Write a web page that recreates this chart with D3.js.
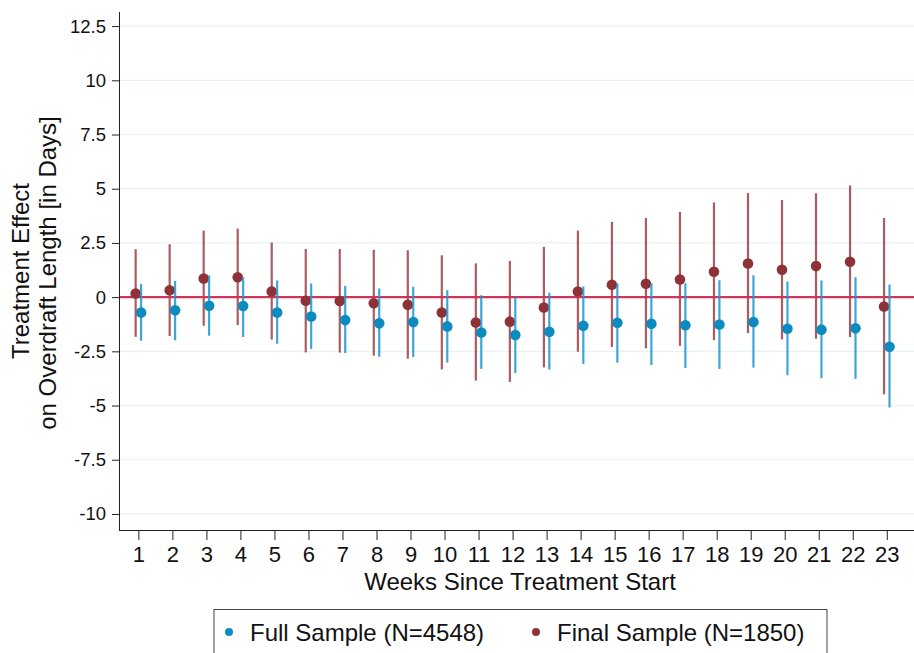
<!DOCTYPE html>
<html>
<head>
<meta charset="utf-8">
<script src="https://cdn.jsdelivr.net/npm/d3@7"></script>
<style>
  body { margin: 0; background: #fff; }
  svg { display: block; font-family: "Liberation Sans", Arial, sans-serif; }
</style>
</head>
<body>
<svg width="914" height="653"></svg>
<script>
const svg = d3.select("svg"),
  width = +svg.attr("width"),
  height = +svg.attr("height");

// Datos
const weeks = d3.range(1, 24);
const yTicks = [-10, -7.5, -5, -2.5, 0, 2.5, 5, 7.5, 10, 12.5];

const fullEst = [-0.71, -0.61, -0.40, -0.41, -0.71, -0.89, -1.06, -1.21, -1.15, -1.35, -1.63, -1.75,
  -1.60, -1.32, -1.18, -1.23, -1.30, -1.26, -1.15, -1.46, -1.50, -1.44, -2.29];
const fullHi = [0.61, 0.75, 1.00, 0.92, 0.77, 0.63, 0.52, 0.40, 0.48, 0.32, 0.09, 0.00,
  0.20, 0.49, 0.63, 0.64, 0.64, 0.78, 1.01, 0.72, 0.77, 0.92, 0.58];
const fullLo = [-2.01, -1.99, -1.78, -1.84, -2.15, -2.39, -2.58, -2.75, -2.76, -3.02, -3.31, -3.50,
  -3.34, -3.08, -3.02, -3.13, -3.27, -3.31, -3.25, -3.60, -3.74, -3.77, -5.09];

const finalEst = [0.17, 0.32, 0.86, 0.92, 0.26, -0.17, -0.18, -0.28, -0.35, -0.71, -1.17, -1.13,
  -0.48, 0.26, 0.57, 0.62, 0.81, 1.17, 1.55, 1.26, 1.43, 1.63, -0.43];
const finalHi = [2.21, 2.44, 3.07, 3.16, 2.52, 2.22, 2.22, 2.18, 2.16, 1.93, 1.56, 1.67,
  2.32, 3.07, 3.47, 3.65, 3.93, 4.37, 4.80, 4.48, 4.79, 5.15, 3.65];
const finalLo = [-1.83, -1.79, -1.32, -1.29, -1.96, -2.55, -2.56, -2.70, -2.84, -3.33, -3.85, -3.91,
  -3.24, -2.52, -2.30, -2.36, -2.25, -1.99, -1.66, -1.95, -1.92, -1.84, -4.48];

const series = [
  { name: "Final Sample (N=1850)", est: finalEst, lo: finalLo, hi: finalHi,
    dot: "#8e3237", bar: "#9a3f46", shift: -0.08 },
  { name: "Full Sample (N=4548)", est: fullEst, lo: fullLo, hi: fullHi,
    dot: "#0d8bbf", bar: "#1a98cc", shift: 0.08 }
];

const margin = { top: 12, right: 0, bottom: 123, left: 120 };

// Escalas
const x = d3.scaleLinear()
  .domain([0.46, 23.8])
  .range([margin.left, width - margin.right]);

const y = d3.scaleLinear()
  .domain([-10.74, 13.15])
  .range([height - margin.bottom, margin.top]);

// Rejilla
svg.append("g")
  .selectAll("line")
  .data(yTicks)
  .join("line")
  .attr("x1", margin.left)
  .attr("x2", width)
  .attr("y1", d => y(d))
  .attr("y2", d => y(d))
  .attr("stroke", "#eaf1f4")
  .attr("stroke-width", 1.2);

// Ejes (guion normal como signo menos, igual que el original)
const yAxis = svg.append("g")
  .attr("transform", `translate(${margin.left},0)`)
  .call(d3.axisLeft(y).tickValues(yTicks).tickSize(8).tickPadding(6)
    .tickFormat(d => String(d)));
yAxis.select(".domain").attr("d", `M-0.5,${margin.top}V${height - margin.bottom}`);
yAxis.selectAll("text").style("font-size", "18.5px").attr("fill", "#111");

const xAxis = svg.append("g")
  .attr("transform", `translate(0,${height - margin.bottom})`)
  .call(d3.axisBottom(x).tickValues(weeks).tickSize(10).tickPadding(6).tickFormat(d => String(d)));
xAxis.select(".domain").attr("d", `M${margin.left - 1},0.5H${width}`);
xAxis.selectAll("text").style("font-size", "22px").attr("fill", "#111");
svg.selectAll(".tick line").attr("stroke", "#222");
svg.selectAll(".domain").attr("stroke", "#222");

// Títulos
svg.append("text")
  .attr("transform", "rotate(-90)")
  .attr("x", -271)
  .attr("y", 29)
  .attr("text-anchor", "middle")
  .style("font-size", "24px")
  .attr("fill", "#111")
  .text("Treatment Effect");

svg.append("text")
  .attr("transform", "rotate(-90)")
  .attr("x", -273)
  .attr("y", 56)
  .attr("text-anchor", "middle")
  .style("font-size", "24px")
  .attr("fill", "#111")
  .text("on Overdraft Length [in Days]");

svg.append("text")
  .attr("x", 520)
  .attr("y", 590)
  .attr("text-anchor", "middle")
  .style("font-size", "24px")
  .attr("fill", "#111")
  .text("Weeks Since Treatment Start");

// Series: barras rojas, línea cero, puntos rojos, luego azul
function drawBars(s) {
  svg.append("g")
    .selectAll("line")
    .data(weeks)
    .join("line")
    .attr("x1", (d) => x(d + s.shift))
    .attr("x2", (d) => x(d + s.shift))
    .attr("y1", (d, i) => y(s.lo[i]))
    .attr("y2", (d, i) => y(s.hi[i]))
    .attr("stroke", s.bar)
    .attr("stroke-opacity", 0.85)
    .attr("stroke-width", 2.2);
}
function drawDots(s) {
  svg.append("g")
    .selectAll("circle")
    .data(weeks)
    .join("circle")
    .attr("cx", (d) => x(d + s.shift))
    .attr("cy", (d, i) => y(s.est[i]))
    .attr("r", 5.3)
    .attr("fill", s.dot);
}

drawBars(series[0]);
svg.append("line")
  .attr("x1", margin.left)
  .attr("x2", width)
  .attr("y1", y(0))
  .attr("y2", y(0))
  .attr("stroke", "#d0345a")
  .attr("stroke-width", 2.2);
drawDots(series[0]);
drawBars(series[1]);
drawDots(series[1]);

// Leyenda
const legend = svg.append("g");
legend.append("rect")
  .attr("x", 214)
  .attr("y", 609.5)
  .attr("width", 613)
  .attr("height", 60)
  .attr("fill", "#fff")
  .attr("stroke", "#444")
  .attr("stroke-width", 1);

const legendItems = [
  { label: series[1].name, color: series[1].dot, cx: 229, tx: 250 },
  { label: series[0].name, color: series[0].dot, cx: 536, tx: 557 }
];
legendItems.forEach(it => {
  legend.append("circle").attr("cx", it.cx).attr("cy", 632).attr("r", 4).attr("fill", it.color);
  legend.append("text")
    .attr("x", it.tx)
    .attr("y", 641)
    .style("font-size", "24px")
    .attr("fill", "#111")
    .text(it.label);
});
</script>
</body>
</html>
